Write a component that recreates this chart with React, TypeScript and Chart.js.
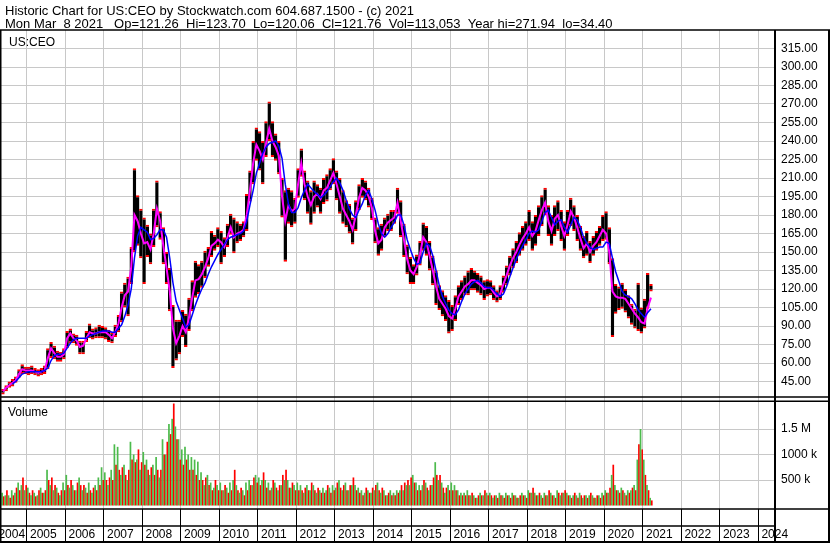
import React, { useEffect, useRef } from 'react';
import { Chart, registerables } from 'chart.js';

Chart.register(...registerables);

// ---------- texts ----------
const TITLE_LINE_1 = 'Historic Chart for US:CEO by Stockwatch.com 604.687.1500 - (c) 2021';
const TITLE_LINE_2 = 'Mon Mar  8 2021   Op=121.26  Hi=123.70  Lo=120.06  Cl=121.76  Vol=113,053  Year hi=271.94  lo=34.40';
const PRICE_PANEL_LABEL = 'US:CEO';
const VOLUME_PANEL_LABEL = 'Volume';

// ---------- axes ----------
const X_MIN = 2004.325;
const X_MAX = 2024.43;
// the first (partly hidden) year label sits just left of the plot's left edge
const FIRST_TICK_VALUE = 2004.18;
const FIRST_TICK_LABEL = '2004';
const YEAR_TICKS = [2005, 2006, 2007, 2008, 2009, 2010, 2011, 2012, 2013, 2014, 2015, 2016, 2017, 2018, 2019, 2020, 2021, 2022, 2023, 2024];
const PRICE_MIN = 30;
const PRICE_MAX = 330;
const PRICE_TICKS = [45, 60, 75, 90, 105, 120, 135, 150, 165, 180, 195, 210, 225, 240, 255, 270, 285, 300, 315];
const VOLUME_MIN = -68600;
const VOLUME_MAX = 2069000;
const VOLUME_TICKS = [500000, 1000000, 1500000];
const VOLUME_TICK_LABELS = ['500 k', '1000 k', '1.5 M'];

// ---------- data (monthly, May 2004 .. Mar 2021) ----------
const FIRST_YEAR = 2004;
const FIRST_MONTH = 5;

const HIGH = [
  39, 42, 45, 47, 49, 55, 59, 57,
  57, 58, 56, 55, 56, 58, 72, 77, 74, 70, 69, 72,
  86, 88, 84, 83, 78, 78, 86, 92, 88, 89, 91, 90,
  89, 87, 85, 91, 99, 118, 125, 130, 154, 218, 196, 185,
  178, 172, 165, 185, 208, 183, 170, 150, 137, 107, 95, 95,
  103, 100, 113, 127, 143, 140, 143, 151, 154, 167, 164, 170,
  167, 162, 173, 181, 178, 175, 173, 175, 197, 216, 240, 251,
  248, 240, 256, 272, 256, 246, 240, 210, 200, 202, 200, 194,
  218, 234, 216, 208, 200, 208, 205, 202, 210, 213, 218, 226,
  216, 210, 200, 192, 189, 178, 192, 205, 210, 208, 202, 194,
  178, 170, 173, 178, 181, 184, 184, 202, 192, 173, 156, 146,
  140, 148, 159, 174, 171, 159, 147, 135, 123, 119, 115, 111,
  107, 115, 123, 127, 131, 135, 137, 135, 133, 131, 127, 128,
  127, 123, 119, 123, 131, 139, 147, 153, 159, 166, 171, 175,
  184, 175, 180, 188, 196, 202, 188, 180, 188, 192, 184, 175,
  184, 194, 188, 180, 171, 163, 167, 159, 163, 167, 171, 180,
  183, 170, 145, 124, 122, 125, 120, 115, 108, 104, 125, 105,
  112, 133, 124,
];

const LOW = [
  34.4, 37, 40, 41, 44, 48, 51, 51,
  50, 51, 50, 49, 50, 51, 55, 64, 63, 61, 61, 63,
  72, 76, 76, 74, 67, 67, 77, 80, 79, 80, 80, 80,
  79, 77, 76, 81, 85, 93, 105, 98, 124, 150, 155, 145,
  124, 146, 140, 154, 170, 160, 140, 124, 102, 56, 62, 67,
  81, 73, 86, 102, 113, 116, 121, 129, 138, 146, 151, 154,
  140, 146, 154, 164, 149, 157, 159, 162, 167, 191, 205, 224,
  216, 205, 227, 240, 227, 224, 213, 178, 142, 173, 170, 173,
  194, 211, 192, 181, 172, 181, 186, 181, 189, 191, 200, 205,
  192, 181, 173, 170, 165, 156, 167, 184, 194, 192, 186, 176,
  157, 147, 151, 162, 167, 167, 173, 181, 162, 146, 132, 124,
  124, 131, 139, 151, 147, 135, 123, 107, 103, 98, 94, 84,
  86, 94, 107, 111, 115, 115, 119, 119, 117, 115, 111, 114,
  115, 111, 109, 111, 117, 123, 131, 137, 141, 147, 151, 155,
  159, 151, 155, 163, 171, 180, 163, 155, 163, 167, 159, 151,
  163, 171, 167, 159, 151, 145, 147, 141, 147, 151, 155, 159,
  160, 140, 81, 100, 103, 104, 101, 96, 91, 88, 86, 84,
  88, 104, 118,
];

const MA_FAST = [
  37, 40, 42, 44, 46, 51, 55, 54,
  54, 54, 53, 52, 53, 54, 64, 72, 68, 65, 65, 67,
  80, 84, 80, 78, 73, 74, 80, 85, 84, 84, 85, 85,
  85, 83, 80, 85, 92, 105, 115, 118, 138, 180, 175, 165,
  157, 158, 152, 165, 185, 175, 155, 137, 118, 88, 76, 82,
  90, 85, 97, 113, 127, 128, 132, 138, 145, 155, 157, 160,
  158, 154, 162, 170, 162, 165, 166, 168, 180, 200, 222, 237,
  232, 225, 238, 250, 240, 235, 228, 195, 175, 188, 183, 185,
  205, 222, 205, 195, 188, 195, 197, 193, 200, 202, 208, 214,
  205, 195, 185, 180, 175, 168, 180, 194, 202, 200, 195, 186,
  167, 157, 160, 170, 174, 176, 178, 190, 175, 160, 144, 135,
  132, 138, 148, 162, 158, 147, 135, 122, 112, 108, 104, 98,
  96, 104, 114, 118, 122, 124, 127, 127, 125, 123, 120, 121,
  121, 117, 114, 116, 124, 131, 139, 145, 150, 156, 161, 165,
  170, 163, 167, 176, 184, 190, 175, 167, 177, 180, 171, 163,
  172, 183, 178, 170, 161, 153, 157, 150, 155, 158, 163, 168,
  165, 150, 118, 114, 113, 113, 112, 108, 104, 100, 97, 93,
  92, 105, 113,
];

const MA_SLOW = [
  null, null, null, 43, 45, 48, 51, 52,
  53, 53, 53, 53, 53, 54, 56, 62, 66, 67, 67, 68,
  72, 76, 79, 80, 80, 80, 80, 82, 83, 84, 85, 86,
  86, 86, 85, 85, 88, 91, 98, 107, 120, 145, 163, 170,
  168, 166, 160, 161, 164, 168, 168, 162, 145, 125, 110, 103,
  96, 89, 91, 99, 107, 114, 120, 125, 132, 138, 143, 148,
  152, 156, 160, 162, 163, 164, 165, 167, 175, 188, 200, 214,
  222, 230, 235, 238, 239, 240, 236, 226, 205, 189, 182, 182,
  186, 194, 200, 205, 202, 199, 197, 194, 196, 199, 203, 207,
  210, 206, 200, 192, 185, 180, 178, 184, 189, 196, 200, 193,
  184, 173, 165, 162, 165, 170, 174, 180, 180, 172, 160, 152,
  145, 140, 141, 150, 157, 155, 147, 135, 123, 114, 108, 103,
  100, 99, 103, 110, 116, 120, 124, 126, 127, 125, 122, 121,
  121, 119, 116, 114, 116, 122, 130, 137, 144, 150, 155, 160,
  165, 167, 166, 168, 175, 182, 184, 178, 172, 175, 176, 170,
  166, 172, 178, 176, 170, 162, 157, 154, 152, 153, 154, 154,
  158, 157, 145, 134, 126, 118, 115, 114, 112, 108, 103, 100,
  97, 101, 104,
];

// peak volume per month on up days / on down days, thousands of shares
const VOLUME_UP_K = [
  250, 200, 200, 300, 250, 450, 400, 300,
  350, 200, 250, 200, 350, 250, 700, 400, 300, 350, 200, 450,
  600, 350, 400, 300, 550, 300, 350, 450, 250, 400, 550, 750,
  650, 400, 700, 1200, 1150, 600, 800, 500, 1250, 1000, 900, 700,
  1050, 900, 600, 800, 950, 550, 1300, 1000, 1600, 1700, 1550, 1300,
  1100, 1150, 1000, 950, 900, 860, 650, 400, 600, 450, 350, 400,
  450, 300, 350, 450, 500, 400, 250, 300, 450, 500, 400, 600,
  550, 500, 500, 450, 350, 450, 300, 400, 500, 500, 350, 400,
  450, 400, 250, 400, 300, 400, 250, 300, 350, 300, 350, 400,
  350, 500, 300, 450, 300, 400, 400, 350, 300, 250, 300, 250,
  300, 450, 250, 300, 200, 300, 250, 300, 300, 300, 400, 400,
  600, 450, 400, 400, 450, 300, 400, 850, 500, 450, 250, 400,
  450, 400, 300, 250, 250, 300, 200, 200, 150, 250, 200, 250,
  250, 150, 200, 250, 200, 250, 200, 250, 200, 150, 250, 200,
  300, 250, 250, 200, 200, 250, 200, 250, 200, 300, 200, 250,
  250, 200, 200, 200, 250, 150, 200, 200, 200, 150, 200, 250,
  300, 250, 600, 400, 300, 350, 250, 300, 300, 400, 900, 1500,
  900, 400, 150,
];

const VOLUME_DOWN_K = [
  180, 300, 150, 200, 350, 300, 550, 400,
  250, 300, 180, 300, 250, 300, 500, 550, 400, 250, 300, 300,
  400, 500, 300, 450, 400, 400, 250, 300, 350, 300, 400, 500,
  500, 550, 500, 800, 700, 750, 600, 700, 900, 850, 1100, 850,
  800, 700, 750, 600, 700, 700, 1000, 1250, 1400, 2000, 1300, 900,
  800, 900, 700, 700, 600, 500, 500, 550, 400, 300, 500, 300,
  300, 400, 250, 300, 700, 300, 350, 200, 300, 400, 550, 450,
  400, 650, 350, 300, 500, 350, 400, 600, 700, 350, 450, 300,
  300, 300, 350, 300, 450, 300, 350, 250, 250, 400, 250, 300,
  450, 350, 400, 300, 400, 550, 300, 250, 200, 350, 250, 350,
  400, 300, 350, 200, 250, 200, 200, 250, 400, 450, 500, 550,
  450, 300, 300, 500, 350, 400, 550, 600, 600, 350, 350, 300,
  300, 300, 200, 200, 200, 200, 250, 150, 200, 200, 300, 200,
  200, 200, 150, 200, 150, 200, 150, 200, 150, 200, 200, 150,
  250, 350, 200, 250, 150, 200, 300, 200, 150, 250, 250, 300,
  200, 150, 250, 150, 200, 200, 150, 250, 150, 200, 150, 200,
  250, 350, 800, 300, 250, 300, 200, 250, 350, 300, 1200, 1100,
  600, 300, 100,
];

// ---------- colours ----------
const GRID = '#c8c8c8';
const INK = '#000000';
const FAST_COLOR = '#ff00ff';
const SLOW_COLOR = '#0000ff';
const UP_COLOR = '#4cbb4c';
const DOWN_COLOR = '#ff0000';
const FONT_FAMILY = '"Liberation Sans", Arial, sans-serif';

const MONTHS: string[] = HIGH.map((_, i) => {
  const m0 = FIRST_MONTH - 1 + i;
  const y = FIRST_YEAR + Math.floor(m0 / 12);
  const m = (m0 % 12) + 1;
  return `${y}-${String(m).padStart(2, '0')}`;
});

// position inside a month: 0 = start, 1 = end
function monthToX(label: string, within = 0.5): number {
  const [y, m] = label.split('-').map(Number);
  return y + (m - 1 + within) / 12;
}

const framePlugin = {
  id: 'stockwatchFrame',
  beforeDraw(chart: any) {
    const { ctx, width, height } = chart;
    ctx.save();
    ctx.fillStyle = '#ffffff';
    ctx.fillRect(0, 0, width, height);
    ctx.restore();
  },
  afterDraw(chart: any) {
    const { ctx, width, height, chartArea: a } = chart;
    const priceBottom = chart.scales.y.bottom;
    ctx.save();
    ctx.fillStyle = INK;
    ctx.textBaseline = 'alphabetic';
    ctx.textAlign = 'left';
    ctx.font = `13px ${FONT_FAMILY}`;
    ctx.fillText(TITLE_LINE_1, 5, 15);
    ctx.fillText(TITLE_LINE_2, 5, 27.5);
    ctx.font = `12px ${FONT_FAMILY}`;
    ctx.fillText(PRICE_PANEL_LABEL, 9, 46);
    ctx.fillText(VOLUME_PANEL_LABEL, 8, priceBottom + 16);

    ctx.strokeStyle = INK;
    const hLine = (y: number, x0: number, x1: number, w: number) => {
      ctx.lineWidth = w;
      ctx.beginPath();
      ctx.moveTo(x0, y);
      ctx.lineTo(x1, y);
      ctx.stroke();
    };
    const vLine = (x: number, y0: number, y1: number, w: number) => {
      ctx.lineWidth = w;
      ctx.beginPath();
      ctx.moveTo(x, y0);
      ctx.lineTo(x, y1);
      ctx.stroke();
    };
    hLine(a.top, 0, width, 1.5);
    hLine(priceBottom - 3, 0, width, 1.5);
    hLine(priceBottom + 1.2, 0, width, 1.5);
    hLine(a.bottom, 0, width, 1.5);
    hLine(a.bottom + 17, 0, a.right, 1.5);
    hLine(height - 1, 0, width, 2);
    vLine(0.75, a.top, height, 1.5);
    vLine(a.right, a.top, height, 2);
    vLine(width - 1, a.top, height, 2);
    ctx.restore();
  },
};

export default function App() {
  const canvasRef = useRef<HTMLCanvasElement | null>(null);

  useEffect(() => {
    document.body.style.margin = '0';
    const canvas = canvasRef.current;
    if (!canvas) return;
    const tickFont = { family: FONT_FAMILY, size: 12 };

    const chart = new Chart(canvas, {
      type: 'bar',
      data: {
        datasets: [
          {
            type: 'line',
            label: 'slow',
            data: MONTHS.map((mo, i) => ({ x: monthToX(mo), y: MA_SLOW[i] })),
            borderColor: SLOW_COLOR,
            borderWidth: 1.5,
            pointRadius: 0,
            tension: 0,
            yAxisID: 'y',
            order: 1,
          } as any,
          {
            type: 'line',
            label: 'fast',
            data: MONTHS.map((mo, i) => ({ x: monthToX(mo), y: MA_FAST[i] })),
            borderColor: FAST_COLOR,
            borderWidth: 2,
            pointRadius: 0,
            tension: 0,
            yAxisID: 'y',
            order: 2,
          } as any,
          {
            type: 'bar',
            label: 'range',
            data: MONTHS.map((mo, i) => ({ x: monthToX(mo), y: [LOW[i], HIGH[i]] })),
            backgroundColor: INK,
            borderColor: DOWN_COLOR,
            borderWidth: { top: 2, bottom: 2, left: 0, right: 0 },
            borderSkipped: false,
            inflateAmount: 0,
            barThickness: 3.5,
            grouped: false,
            yAxisID: 'y',
            order: 3,
          } as any,
          {
            type: 'bar',
            label: 'volume up',
            data: MONTHS.map((mo, i) => ({ x: monthToX(mo, 0.25), y: VOLUME_UP_K[i] * 1000 })),
            backgroundColor: UP_COLOR,
            borderWidth: 0,
            inflateAmount: 0,
            barThickness: 1.7,
            grouped: false,
            yAxisID: 'yVol',
            order: 4,
          } as any,
          {
            type: 'bar',
            label: 'volume down',
            data: MONTHS.map((mo, i) => ({ x: monthToX(mo, 0.75), y: VOLUME_DOWN_K[i] * 1000 })),
            backgroundColor: DOWN_COLOR,
            borderWidth: 0,
            inflateAmount: 0,
            barThickness: 1.7,
            grouped: false,
            yAxisID: 'yVol',
            order: 5,
          } as any,
        ],
      },
      options: {
        animation: false,
        responsive: false,
        devicePixelRatio: 1,
        layout: { padding: { top: 30, left: 1, right: 0, bottom: 0 } },
        plugins: { legend: { display: false }, tooltip: { enabled: false } },
        scales: {
          x: {
            type: 'linear',
            min: X_MIN,
            max: X_MAX,
            offset: false,
            afterBuildTicks: (s: any) => {
              s.ticks = [{ value: FIRST_TICK_VALUE }, ...YEAR_TICKS.map((v) => ({ value: v }))];
            },
            afterFit: (s: any) => {
              s.height = 34;
            },
            grid: { offset: false, color: GRID, lineWidth: 1, tickColor: INK, tickLength: 33, drawTicks: true },
            border: { display: false },
            ticks: {
              autoSkip: false,
              maxRotation: 0,
              minRotation: 0,
              align: 'start',
              labelOffset: 3,
              padding: -15,
              color: INK,
              font: tickFont,
              callback: (v: any) => (v === FIRST_TICK_VALUE ? FIRST_TICK_LABEL : String(v)),
            },
          },
          y: {
            type: 'linear',
            position: 'right',
            stack: 'panels',
            stackWeight: 370,
            min: PRICE_MIN,
            max: PRICE_MAX,
            afterBuildTicks: (s: any) => {
              s.ticks = PRICE_TICKS.map((v) => ({ value: v }));
            },
            afterFit: (s: any) => {
              s.width = 55;
            },
            grid: { color: GRID, lineWidth: 1, drawTicks: false },
            border: { display: false },
            ticks: {
              autoSkip: false,
              padding: 6,
              color: INK,
              font: tickFont,
              callback: (v: any) => Number(v).toFixed(2),
            },
          },
          yVol: {
            type: 'linear',
            position: 'right',
            stack: 'panels',
            stackWeight: 109,
            min: VOLUME_MIN,
            max: VOLUME_MAX,
            afterBuildTicks: (s: any) => {
              s.ticks = VOLUME_TICKS.map((v) => ({ value: v }));
            },
            afterFit: (s: any) => {
              s.width = 55;
            },
            grid: { color: GRID, lineWidth: 1, drawTicks: false },
            border: { display: false },
            ticks: {
              autoSkip: false,
              padding: 6,
              color: INK,
              font: tickFont,
              callback: (v: any) => {
                const idx = VOLUME_TICKS.indexOf(Number(v));
                return idx >= 0 ? VOLUME_TICK_LABELS[idx] : null;
              },
            },
          },
        } as any,
      },
      plugins: [framePlugin],
    });

    return () => chart.destroy();
  }, []);

  return (
    <div style={{ width: 830, height: 543, background: '#fff' }}>
      <canvas ref={canvasRef} width={830} height={543} style={{ display: 'block' }} />
    </div>
  );
}
